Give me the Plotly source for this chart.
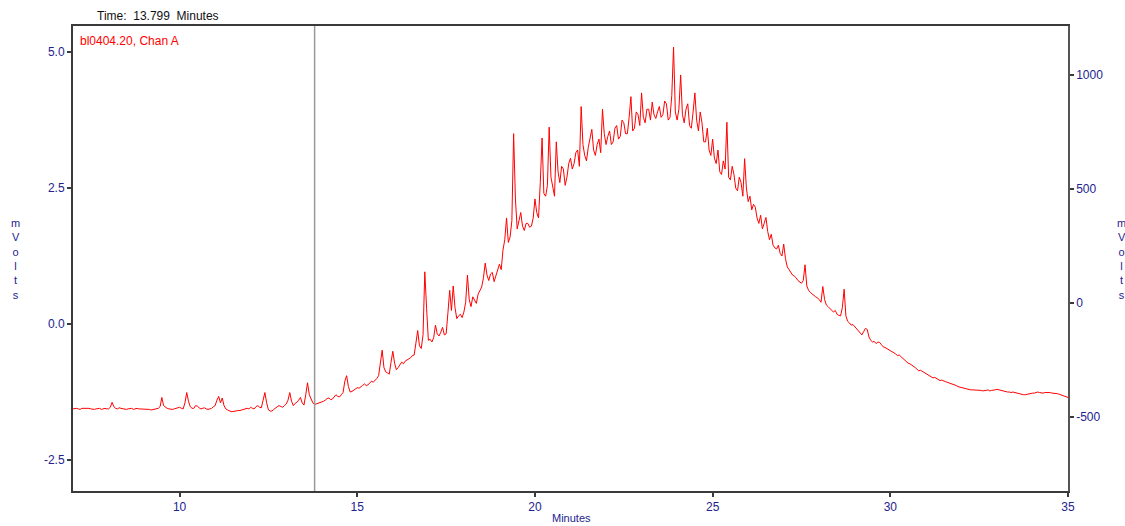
import plotly.graph_objects as go

# Chromatogram trace, sampled every 0.05 minute from 7.00 to 35.00 (mVolts)
minutes_start = 7.0
minutes_step = 0.05
mvolts = [
    # 7
    -1.56, -1.55, -1.55, -1.56, -1.57, -1.55, -1.55, -1.54, -1.54, -1.55,
    -1.56, -1.57, -1.57, -1.56, -1.56, -1.55, -1.57, -1.56, -1.55, -1.56,
    # 8
    -1.56, -1.53, -1.44, -1.52, -1.55, -1.56, -1.54, -1.55, -1.56, -1.57,
    -1.57, -1.56, -1.56, -1.55, -1.57, -1.56, -1.55, -1.56, -1.56, -1.57,
    # 9
    -1.57, -1.56, -1.56, -1.57, -1.58, -1.57, -1.57, -1.56, -1.55, -1.52,
    -1.35, -1.50, -1.53, -1.55, -1.56, -1.57, -1.57, -1.56, -1.55, -1.54,
    # 10
    -1.53, -1.55, -1.56, -1.45, -1.26, -1.42, -1.52, -1.55, -1.55, -1.50,
    -1.51, -1.54, -1.56, -1.55, -1.54, -1.56, -1.57, -1.56, -1.55, -1.52,
    # 11
    -1.50, -1.40, -1.33, -1.45, -1.36, -1.50, -1.56, -1.58, -1.60, -1.61,
    -1.61, -1.60, -1.60, -1.59, -1.59, -1.58, -1.58, -1.57, -1.55, -1.56,
    # 12
    -1.53, -1.55, -1.56, -1.52, -1.50, -1.53, -1.54, -1.40, -1.26, -1.45,
    -1.58, -1.60, -1.60, -1.57, -1.54, -1.52, -1.50, -1.52, -1.53, -1.50,
    # 13
    -1.47, -1.40, -1.26, -1.42, -1.50, -1.46, -1.44, -1.40, -1.35, -1.45,
    -1.49, -1.30, -1.08, -1.30, -1.38, -1.45, -1.48, -1.47, -1.45, -1.44,
    # 14
    -1.43, -1.42, -1.40, -1.37, -1.36, -1.39, -1.38, -1.33, -1.30, -1.33,
    -1.34, -1.30, -1.26, -1.05, -0.95, -1.15, -1.25, -1.24, -1.22, -1.20,
    # 15
    -1.17, -1.18, -1.16, -1.13, -1.10, -1.13, -1.12, -1.08, -1.05, -1.07,
    -1.04, -1.00, -0.95, -0.70, -0.48, -0.80, -0.88, -0.90, -0.92, -0.70,
    # 16
    -0.50, -0.72, -0.84, -0.80, -0.76, -0.70, -0.73, -0.68, -0.66, -0.64,
    -0.62, -0.58, -0.57, -0.35, -0.12, -0.40, -0.45, -0.20, 0.96, 0.29,
    # 17
    -0.30, -0.28, -0.33, -0.25, -0.02, -0.18, -0.22, -0.15, -0.06, -0.20,
    -0.18, 0.20, 0.62, 0.25, 0.70, 0.30, 0.10, 0.15, 0.18, 0.12,
    # 18
    0.22, 0.40, 0.90, 0.45, 0.32, 0.50, 0.45, 0.38, 0.55, 0.62,
    0.68, 0.85, 1.12, 0.90, 0.80, 0.92, 0.95, 0.78, 0.88, 1.00,
    # 19
    1.10, 1.00, 1.36, 1.55, 1.95, 1.50, 1.60, 1.90, 3.50, 2.30,
    1.75, 1.90, 2.05, 1.80, 1.72, 1.85, 1.85, 1.78, 1.80, 1.95,
    # 20
    2.30, 2.05, 1.95, 2.60, 3.42, 2.40, 2.35, 2.55, 3.62, 2.70,
    2.55, 2.35, 3.35, 2.80, 2.60, 2.90, 2.85, 2.55, 2.70, 2.95,
    # 21
    3.05, 2.85, 2.95, 3.15, 3.20, 2.90, 4.00, 3.30, 3.10, 3.00,
    3.25, 3.45, 3.58, 3.20, 3.10, 3.30, 3.40, 3.15, 3.95, 3.50,
    # 22
    3.30, 3.45, 3.55, 3.30, 3.35, 3.60, 3.65, 3.40, 3.45, 3.75,
    3.70, 3.50, 3.50, 3.80, 4.18, 3.55, 3.60, 3.90, 3.85, 3.65,
    # 23
    4.25, 3.80, 3.70, 3.95, 3.95, 3.75, 4.08, 3.85, 3.78, 3.90,
    4.00, 3.80, 3.85, 4.10, 4.05, 3.75, 3.80, 4.20, 5.09, 3.90,
    # 24
    3.75, 3.95, 4.58, 3.85, 3.70, 3.95, 4.05, 3.65, 3.60, 3.90,
    4.25, 3.75, 3.55, 3.90, 3.70, 3.35, 3.35, 3.60, 3.20, 3.10,
    # 25
    3.40, 3.05, 2.95, 3.20, 2.80, 2.75, 3.00, 2.85, 3.71, 2.70,
    2.65, 2.90, 2.75, 2.50, 2.45, 2.70, 2.60, 2.35, 3.04, 2.50,
    # 26
    2.25, 2.35, 2.10, 2.20, 2.15, 1.95, 1.85, 2.00, 1.75, 1.85,
    1.96, 1.70, 1.55, 1.65, 1.45, 1.40, 1.38, 1.45, 1.30, 1.25,
    # 27
    1.47, 1.20, 1.05, 1.00, 0.95, 0.90, 0.88, 0.85, 0.80, 0.78,
    0.75, 0.80, 1.09, 0.70, 0.62, 0.58, 0.55, 0.52, 0.50, 0.48,
    # 28
    0.45, 0.40, 0.69, 0.45, 0.35, 0.32, 0.28, 0.25, 0.22, 0.25,
    0.18, 0.16, 0.15, 0.30, 0.64, 0.15, 0.05, 0.02, -0.02, -0.01,
    # 29
    -0.05, -0.08, -0.12, -0.15, -0.20, -0.14, -0.08, -0.10, -0.24, -0.30,
    -0.33, -0.32, -0.36, -0.33, -0.34, -0.38, -0.42, -0.43, -0.45, -0.46,
    # 30
    -0.48, -0.50, -0.52, -0.55, -0.58, -0.57, -0.60, -0.63, -0.66, -0.68,
    -0.72, -0.73, -0.75, -0.77, -0.80, -0.83, -0.86, -0.85, -0.87, -0.90,
    # 31
    -0.92, -0.94, -0.96, -0.97, -0.99, -0.98, -1.00, -1.02, -1.04, -1.03,
    -1.05, -1.06, -1.07, -1.08, -1.10, -1.11, -1.12, -1.13, -1.15, -1.16,
    # 32
    -1.17, -1.18, -1.18, -1.19, -1.20, -1.21, -1.21, -1.21, -1.22, -1.21,
    -1.21, -1.22, -1.23, -1.23, -1.22, -1.21, -1.23, -1.22, -1.22, -1.21,
    # 33
    -1.20, -1.21, -1.22, -1.23, -1.24, -1.24, -1.25, -1.25, -1.26, -1.25,
    -1.26, -1.27, -1.28, -1.28, -1.29, -1.30, -1.30, -1.29, -1.28, -1.28,
    # 34
    -1.27, -1.27, -1.26, -1.25, -1.26, -1.27, -1.27, -1.26, -1.26, -1.25,
    -1.26, -1.27, -1.27, -1.28, -1.28, -1.29, -1.30, -1.31, -1.32, -1.33,
    # 35
    -1.35,
]
minutes = [round(minutes_start + i * minutes_step, 3) for i in range(len(mvolts))]

cursor_time = 13.799
x_ticks = [10, 15, 20, 25, 30, 35]
left_ticks = [-2.5, 0.0, 2.5, 5.0]
left_tick_labels = ["-2.5", "0.0", "2.5", "5.0"]
right_ticks = [-500, 0, 500, 1000]
right_tick_labels = ["-500", "0", "500", "1000"]

x_range = [7.0, 35.0]
left_range = [-3.07, 5.48]
right_range = [-827, 1215]

NAVY = "#23238e"
AXIS = "#3a3a3a"
FONT = "Liberation Sans, Arial, sans-serif"

fig = go.Figure()
fig.add_trace(go.Scatter(
    x=minutes, y=mvolts, mode="lines",
    line=dict(color="#ff0000", width=1),
    hoverinfo="skip", showlegend=False,
))
# empty trace so the right-hand axis is drawn
fig.add_trace(go.Scatter(x=[], y=[], yaxis="y2", mode="lines",
                         hoverinfo="skip", showlegend=False))

fig.update_layout(
    width=1125, height=526,
    margin=dict(l=73, r=57, t=26, b=28),
    paper_bgcolor="white", plot_bgcolor="white",
    font=dict(family=FONT, size=12, color=NAVY),
    showlegend=False,
    xaxis=dict(
        range=x_range, tickvals=x_ticks, ticks="outside", ticklen=4, tickwidth=1.5,
        tickcolor=AXIS, showline=True, linecolor=AXIS, linewidth=2, mirror=True,
        showgrid=False, zeroline=False,
        tickfont=dict(family=FONT, size=12, color=NAVY),
    ),
    yaxis=dict(
        range=left_range, tickvals=left_ticks, ticktext=left_tick_labels,
        ticks="outside", ticklen=4, tickwidth=1.5, tickcolor=AXIS,
        showline=True, linecolor=AXIS, linewidth=2, showgrid=False, zeroline=False,
        tickfont=dict(family=FONT, size=12, color=NAVY),
    ),
    yaxis2=dict(
        range=right_range, tickvals=right_ticks, ticktext=right_tick_labels,
        overlaying="y", side="right",
        ticks="outside", ticklen=4, tickwidth=1.5, tickcolor=AXIS,
        showline=True, linecolor="#555555", linewidth=1.5, showgrid=False, zeroline=False,
        tickfont=dict(family=FONT, size=12, color=NAVY),
    ),
    shapes=[dict(
        type="line", xref="x", yref="paper", x0=cursor_time, x1=cursor_time, y0=0, y1=1,
        line=dict(color="#9a9a9a", width=1.5),
    )],
    annotations=[
        dict(text="Time:  13.799  Minutes", xref="paper", yref="paper",
             x=0.022, y=1.021, xanchor="left", yanchor="middle", showarrow=False,
             font=dict(family=FONT, size=12, color="#111111")),
        dict(text="bl0404.20, Chan A", xref="paper", yref="paper",
             x=0.005, y=0.968, xanchor="left", yanchor="middle", showarrow=False,
             font=dict(family=FONT, size=12, color="#ff0000")),
        dict(text="Minutes", xref="paper", yref="paper",
             x=0.5015, y=-0.0575, xanchor="center", yanchor="middle", showarrow=False,
             font=dict(family=FONT, size=11, color=NAVY)),
        dict(text="m<br>V<br>o<br>l<br>t<br>s", xref="paper", yref="paper",
             x=-0.058, y=0.5, xanchor="center", yanchor="middle", showarrow=False,
             font=dict(family=FONT, size=11, color=NAVY)),
        dict(text="m<br>V<br>o<br>l<br>t<br>s", xref="paper", yref="paper",
             x=1.054, y=0.5, xanchor="center", yanchor="middle", showarrow=False,
             font=dict(family=FONT, size=11, color=NAVY)),
    ],
)

fig.write_html(
    "out.html",
    config={"displayModeBar": False},
    post_script="document.body.style.margin='0px';document.body.style.overflow='hidden';",
)
